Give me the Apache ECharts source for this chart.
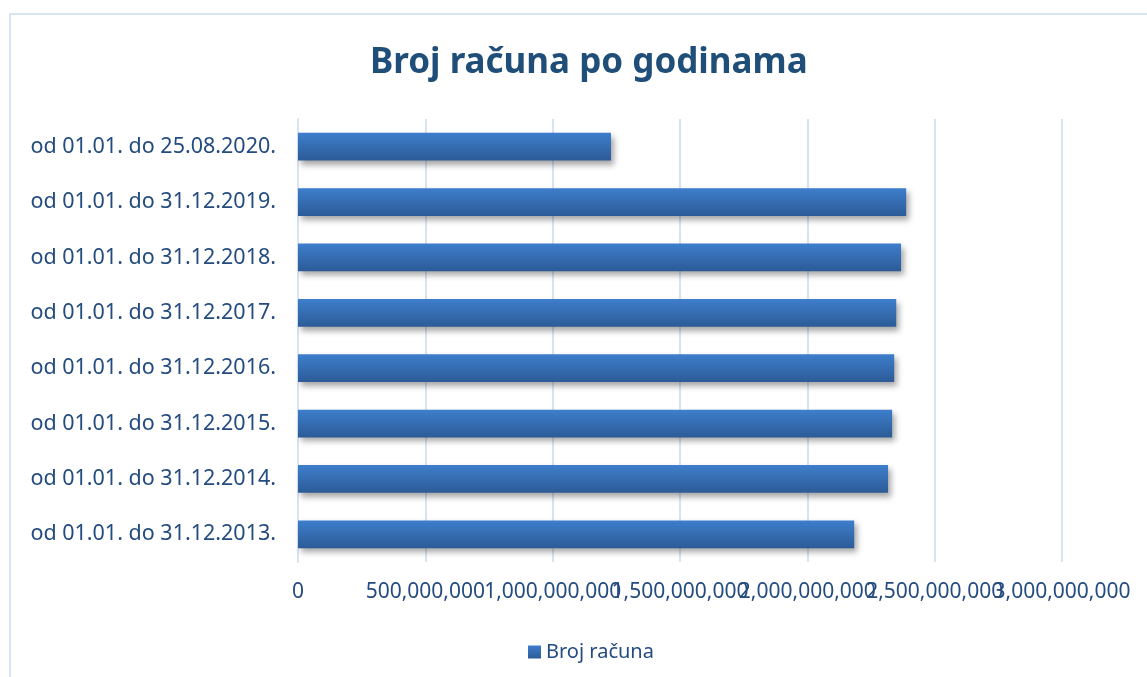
<!DOCTYPE html>
<html>
<head>
<meta charset="utf-8">
<script src="https://cdn.jsdelivr.net/npm/echarts@6/dist/echarts.min.js"></script>
<style>
    html, body { margin: 0; padding: 0; background: #fff; }
    #chart_01 { width: 1147px; height: 677px; }
</style>
</head>
<body>
<div id="chart_01"></div>
<script>
// podaci
var categories = [
    'od 01.01. do 31.12.2013.',
    'od 01.01. do 31.12.2014.',
    'od 01.01. do 31.12.2015.',
    'od 01.01. do 31.12.2016.',
    'od 01.01. do 31.12.2017.',
    'od 01.01. do 31.12.2018.',
    'od 01.01. do 31.12.2019.',
    'od 01.01. do 25.08.2020.'
];
var brojRacuna = [2184000000, 2317000000, 2333000000, 2341000000, 2349000000, 2368000000, 2388000000, 1229000000];
var seriesName = 'Broj računa';
var titleText = 'Broj računa po godinama';
var axisMax = 3000000000;
var axisStep = 500000000;

var textColor = '#244c7f';
var font = '"Noto Sans", sans-serif';

// dvije osi: parne i neparne oznake, da se preklopljene oznake ne skrivaju
function makeXAxis(even) {
    return {
        type: 'value',
        min: 0,
        max: axisMax,
        interval: axisStep,
        position: 'bottom',
        axisLine: { show: false },
        axisTick: { show: false },
        splitLine: { show: even, lineStyle: { color: '#d9e4f2', width: 2 } },
        axisLabel: {
            margin: 20,
            fontFamily: font,
            fontSize: 21,
            color: textColor,
            showMinLabel: true,
            showMaxLabel: true,
            hideOverlap: false,
            formatter: function (v) {
                var isEven = Math.round(v / axisStep) % 2 === 0;
                return isEven === even ? v.toLocaleString('en-US') : '';
            }
        }
    };
}

var myChart = echarts.init(document.getElementById('chart_01'));
var option = {
    backgroundColor: '#fff',
    animation: false,
    title: {
        text: titleText,
        left: 365,
        top: 41,
        textStyle: {
            fontFamily: font,
            fontSize: 35,
            fontWeight: 'bold',
            color: '#1f4e79'
        }
    },
    graphic: [{
        type: 'rect',
        shape: { x: 10, y: 14, width: 1200, height: 700 },
        style: { fill: 'none', stroke: '#d6e4f4', lineWidth: 2 },
        silent: true
    }],
    legend: {
        data: [seriesName],
        left: 523,
        top: 637,
        icon: 'rect',
        itemWidth: 13,
        itemHeight: 13,
        itemGap: 6,
        textStyle: { fontFamily: font, fontSize: 20, color: textColor }
    },
    grid: {
        left: 298,
        right: 85,
        top: 119,
        bottom: 115,
        containLabel: false,
        outerBoundsMode: 'none'
    },
    xAxis: [makeXAxis(true), makeXAxis(false)],
    yAxis: {
        type: 'category',
        data: categories,
        axisLine: { show: true, lineStyle: { color: '#d9e4f2', width: 2 } },
        axisTick: { show: false },
        splitLine: { show: false },
        axisLabel: {
            margin: 22,
            fontFamily: font,
            fontSize: 21.5,
            color: textColor
        }
    },
    series: [{
        name: seriesName,
        type: 'bar',
        xAxisIndex: 0,
        data: brojRacuna,
        barWidth: '50%',
        itemStyle: {
            color: new echarts.graphic.LinearGradient(0, 0, 0, 1, [
                { offset: 0, color: '#3e7ecc' },
                { offset: 1, color: '#2c5b97' }
            ]),
            shadowColor: 'rgba(0,0,0,0.35)',
            shadowBlur: 6,
            shadowOffsetX: 3,
            shadowOffsetY: 4
        }
    }]
};
myChart.setOption(option);
window.addEventListener('resize', function () {
    myChart.resize();
});
</script>
</body>
</html>
